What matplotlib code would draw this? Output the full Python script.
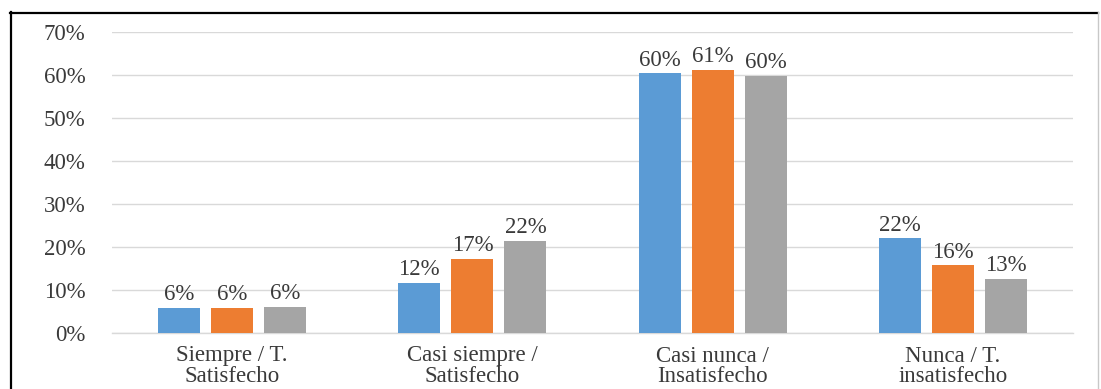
import matplotlib
matplotlib.use("Agg")
import matplotlib.pyplot as plt
from matplotlib.lines import Line2D
import numpy as np

categories = ["Siempre / T.\nSatisfecho", "Casi siempre /\nSatisfecho",
              "Casi nunca /\nInsatisfecho", "Nunca / T.\ninsatisfecho"]
series_a = [5.9, 11.7, 60.4, 22.0]
series_b = [5.9, 17.2, 61.2, 15.7]
series_c = [6.0, 21.4, 59.8, 12.5]
labels_a = ["6%", "12%", "60%", "22%"]
labels_b = ["6%", "17%", "61%", "16%"]
labels_c = ["6%", "22%", "60%", "13%"]
yticks = [0, 10, 20, 30, 40, 50, 60, 70]
colors = ["#5B9BD5", "#ED7D31", "#A5A5A5"]

plt.rcParams['font.family'] = ['Liberation Serif', 'DejaVu Serif']
txt = '#3A3A3A'
fs = 16.5

W, H = 1101, 389
fig = plt.figure(figsize=(W / 100, H / 100), dpi=100)
ax = fig.add_axes([112 / W, 56 / H, (1073 - 112) / W, (357 - 56) / H])

x = np.arange(len(categories))
bw = 0.175
off = 0.221
for vals, labs, col, dx in [(series_a, labels_a, colors[0], -off),
                            (series_b, labels_b, colors[1], 0),
                            (series_c, labels_c, colors[2], off)]:
    bars = ax.bar(x + dx, vals, width=bw, color=col, zorder=3)
    for b, lab in zip(bars, labs):
        ax.annotate(lab, (b.get_x() + b.get_width() / 2, b.get_height()),
                    xytext=(0, 2), textcoords='offset points',
                    ha='center', va='bottom', fontsize=fs, color=txt)

ax.set_xlim(-0.5, 3.5)
ax.set_ylim(0, 70)
ax.set_yticks(yticks)
ax.set_yticklabels([f"{v}%" for v in yticks], fontsize=fs, color=txt)
ax.set_xticks(x)
ax.set_xticklabels(categories, fontsize=fs, color=txt, linespacing=1.0)
ax.tick_params(axis='y', length=0, pad=19)
ax.tick_params(axis='x', length=0, pad=9)
ax.grid(axis='y', color='#D9D9D9', linewidth=1, zorder=0)
for s in ['top', 'right', 'left']:
    ax.spines[s].set_visible(False)
ax.spines['bottom'].set_color('#D9D9D9')
ax.spines['bottom'].set_linewidth(1)

# outer frame
def fx(px):
    return px / W
def fy(py):
    return 1 - py / H
fig.add_artist(Line2D([fx(10.5), fx(10.5)], [fy(389), fy(12)], color='black', linewidth=1.6))
fig.add_artist(Line2D([fx(10), fx(1098)], [fy(12.5), fy(12.5)], color='black', linewidth=1.6))
fig.add_artist(Line2D([fx(1097.5), fx(1097.5)], [fy(389), fy(12)], color='#C8C8C8', linewidth=1))

fig.savefig("out.png", dpi=100)
